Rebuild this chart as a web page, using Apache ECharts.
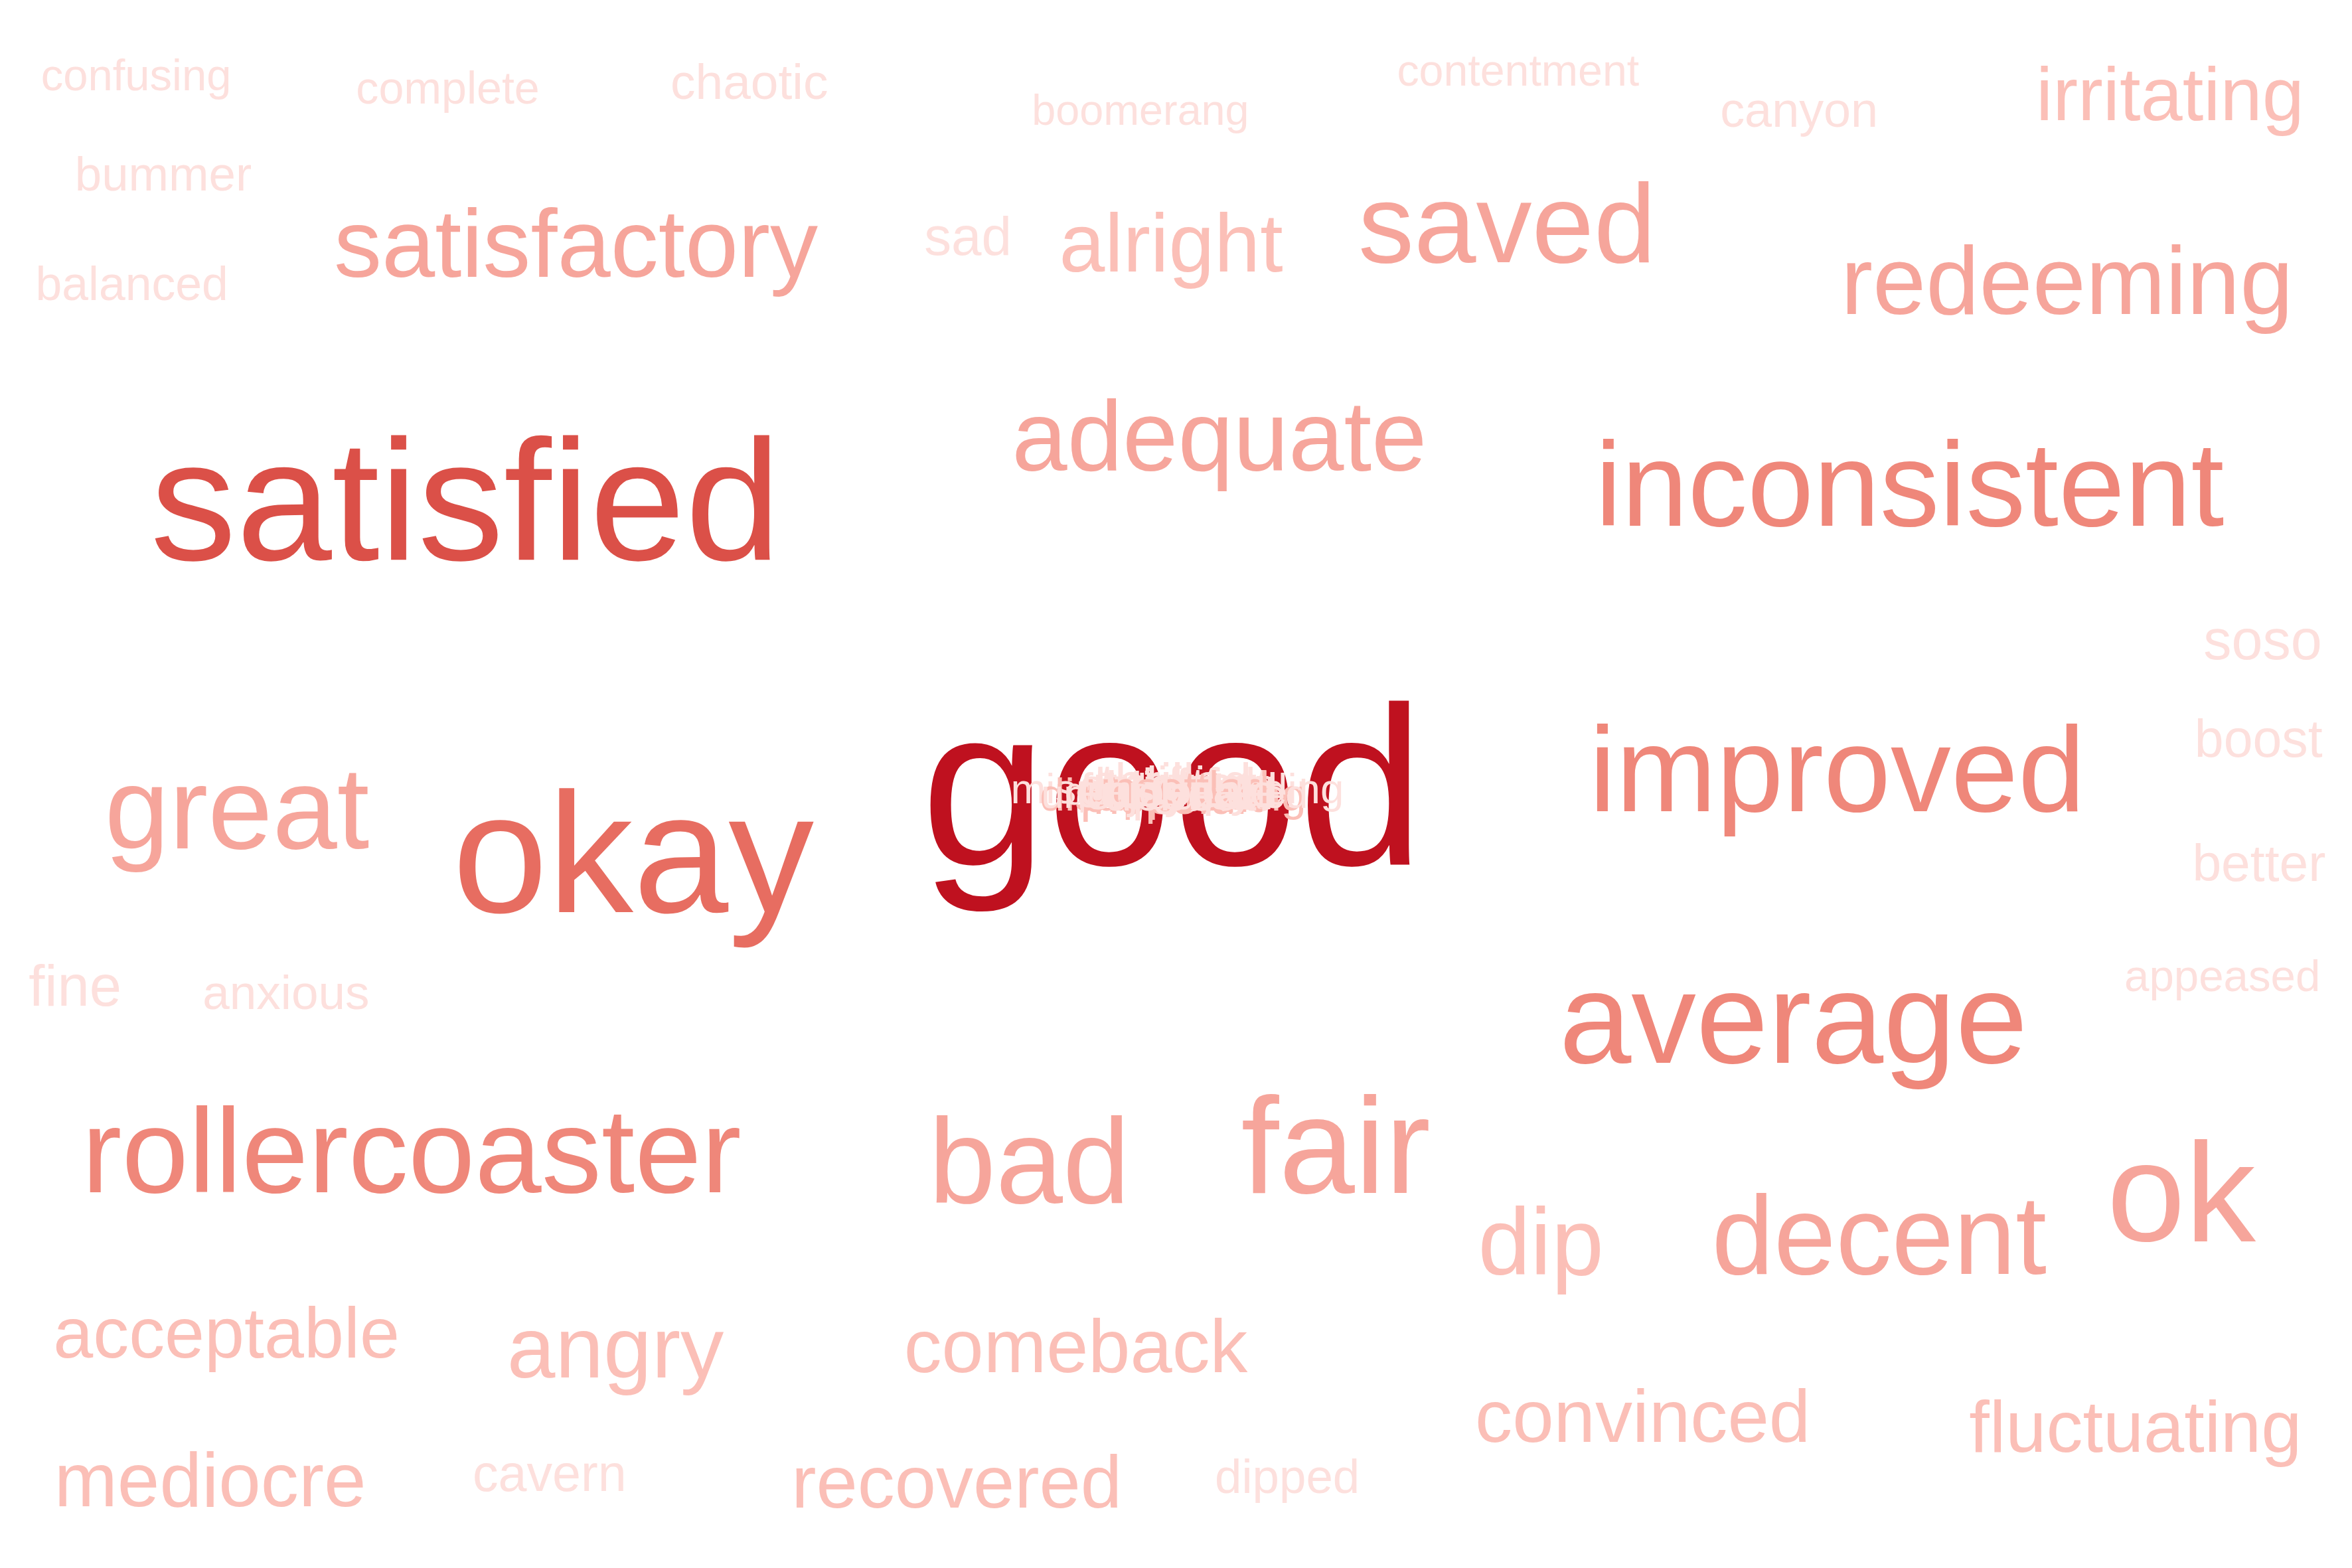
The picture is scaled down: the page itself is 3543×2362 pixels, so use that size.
<!DOCTYPE html>
<html>
<head>
<meta charset="utf-8">
<script src="https://cdn.jsdelivr.net/npm/echarts@6/dist/echarts.min.js"></script>
<style>
html,body{margin:0;padding:0;background:#ffffff;}
#chart{width:3543px;height:2362px;}
</style>
</head>
<body>
<div id="chart"></div>
<script>
// ---- data: words and their frequency level ----
const words = [
  "good","satisfied","okay",
  "inconsistent","improved","rollercoaster","average",
  "satisfactory","saved","adequate","redeeming","great","bad","fair","decent","ok",
  "irritating","alright","acceptable","angry","comeback","mediocre","recovered","dip","convinced","fluctuating",
  "confusing","complete","chaotic","boomerang","contentment","canyon","bummer","balanced","sad","soso","boost","better","appeased","fine","anxious","cavern","dipped",
  "misunderstanding","disappointing","heartfelt","hopeful","frustrated","uplifting","stable","underwhelmed",
  "satisfying","pleasant","bumpy","thrilled","delighted","steadfast","unsettled","enjoyable","questionable","upbeat"
];
const counts = [
  7,6,5,
  4,4,4,4,
  3,3,3,3,3,3,3,3,3,
  2,2,2,2,2,2,2,2,2,2,
  1,1,1,1,1,1,1,1,1,1,1,1,1,1,1,1,1,
  1,2,1,2,1,1,2,1,
  1,2,1,1,1,1,2,1,1,1
];

// ---- layout (word-cloud placement, in a 1560 x 1040 layout space) ----
const layoutX = [
  777.7,308.8,420,
  1266.6,1218.5,273,1189.5,
  382,999.6,808.8,1371,157.2,682.7,886,1246.4,1446.8,
  1439.3,776.7,150.2,408.2,713.5,139.4,634.5,1022,1089.6,1416.4,
  90.3,297,497,756.4,1006.9,1193.3,108.3,87.5,642,1500.8,1498,1498.3,1474,49.8,189.7,364.5,853.8,
  780.8,778,784,776,782,780,785,779,
  781,777,783,780,779,782,781,780,780,783
];
const layoutBaseline = [
  578.1,374.3,608,
  350.4,539.7,792.2,706.7,
  184.2,175.1,313.3,209.1,563.9,799.2,793.4,846,825,
  80,180.5,900.6,914,910.4,999.2,1000,846.1,956.7,963,
  59,67.8,65,81.9,56.2,83.4,126,198.4,168.8,436.7,501.5,583.7,656.5,666.6,668.7,988.5,989.6,
  532,537,531,539,534,530,536,535,
  531,538,534,530,533,536,532,535,533,537
];
const fontSizes = [
  150,114,113.5,
  79,80,79.5,86,
  63.5,74,66,63.5,77,80,90.5,74,93.5,
  50,54.5,47.5,57.5,50,50.3,49.3,62.5,49.4,48.4,
  29.5,30,33,28.5,29.2,32.5,32,31.5,36,37.2,34.7,34.6,29.6,38.2,32.1,34,32,
  28,30,32,31,31,32,33,27,
  31,32,33,34,31,30,30,31,26,33
];
const levelColors = ['#fde0dd','#fbbfb7','#f6a59b','#ef877a','#e76d61','#db5048','#bf111f'];

const W = 1560, H = 1040;
const S = 3543 / W;

const seriesData = words.map(function (w, i) {
  const fs = fontSizes[i];
  return {
    name: w,
    value: [layoutX[i], layoutBaseline[i] - 0.32 * fs + 2, counts[i]],
    label: {
      fontSize: fs * S,
      color: levelColors[counts[i] - 1]
    }
  };
});

const chart = echarts.init(document.getElementById('chart'), null, {renderer: 'canvas'});
chart.setOption({
  backgroundColor: '#ffffff',
  animation: false,
  grid: {left: 0, right: 0, top: 0, bottom: 0, containLabel: false},
  xAxis: {type: 'value', min: 0, max: W, show: false},
  yAxis: {type: 'value', min: 0, max: H, inverse: true, show: false},
  series: [{
    type: 'scatter',
    silent: true,
    symbolSize: 1,
    itemStyle: {color: 'rgba(255,255,255,0)', opacity: 1},
    label: {
      show: true,
      position: 'inside',
      align: 'center',
      verticalAlign: 'middle',
      fontFamily: '"Liberation Sans", Arial, Helvetica, sans-serif',
      fontWeight: 'normal',
      textBorderWidth: 0,
      textBorderColor: 'transparent',
      opacity: 1,
      formatter: '{b}'
    },
    labelLayout: {hideOverlap: false},
    emphasis: {disabled: true},
    data: seriesData
  }]
});
</script>
</body>
</html>
